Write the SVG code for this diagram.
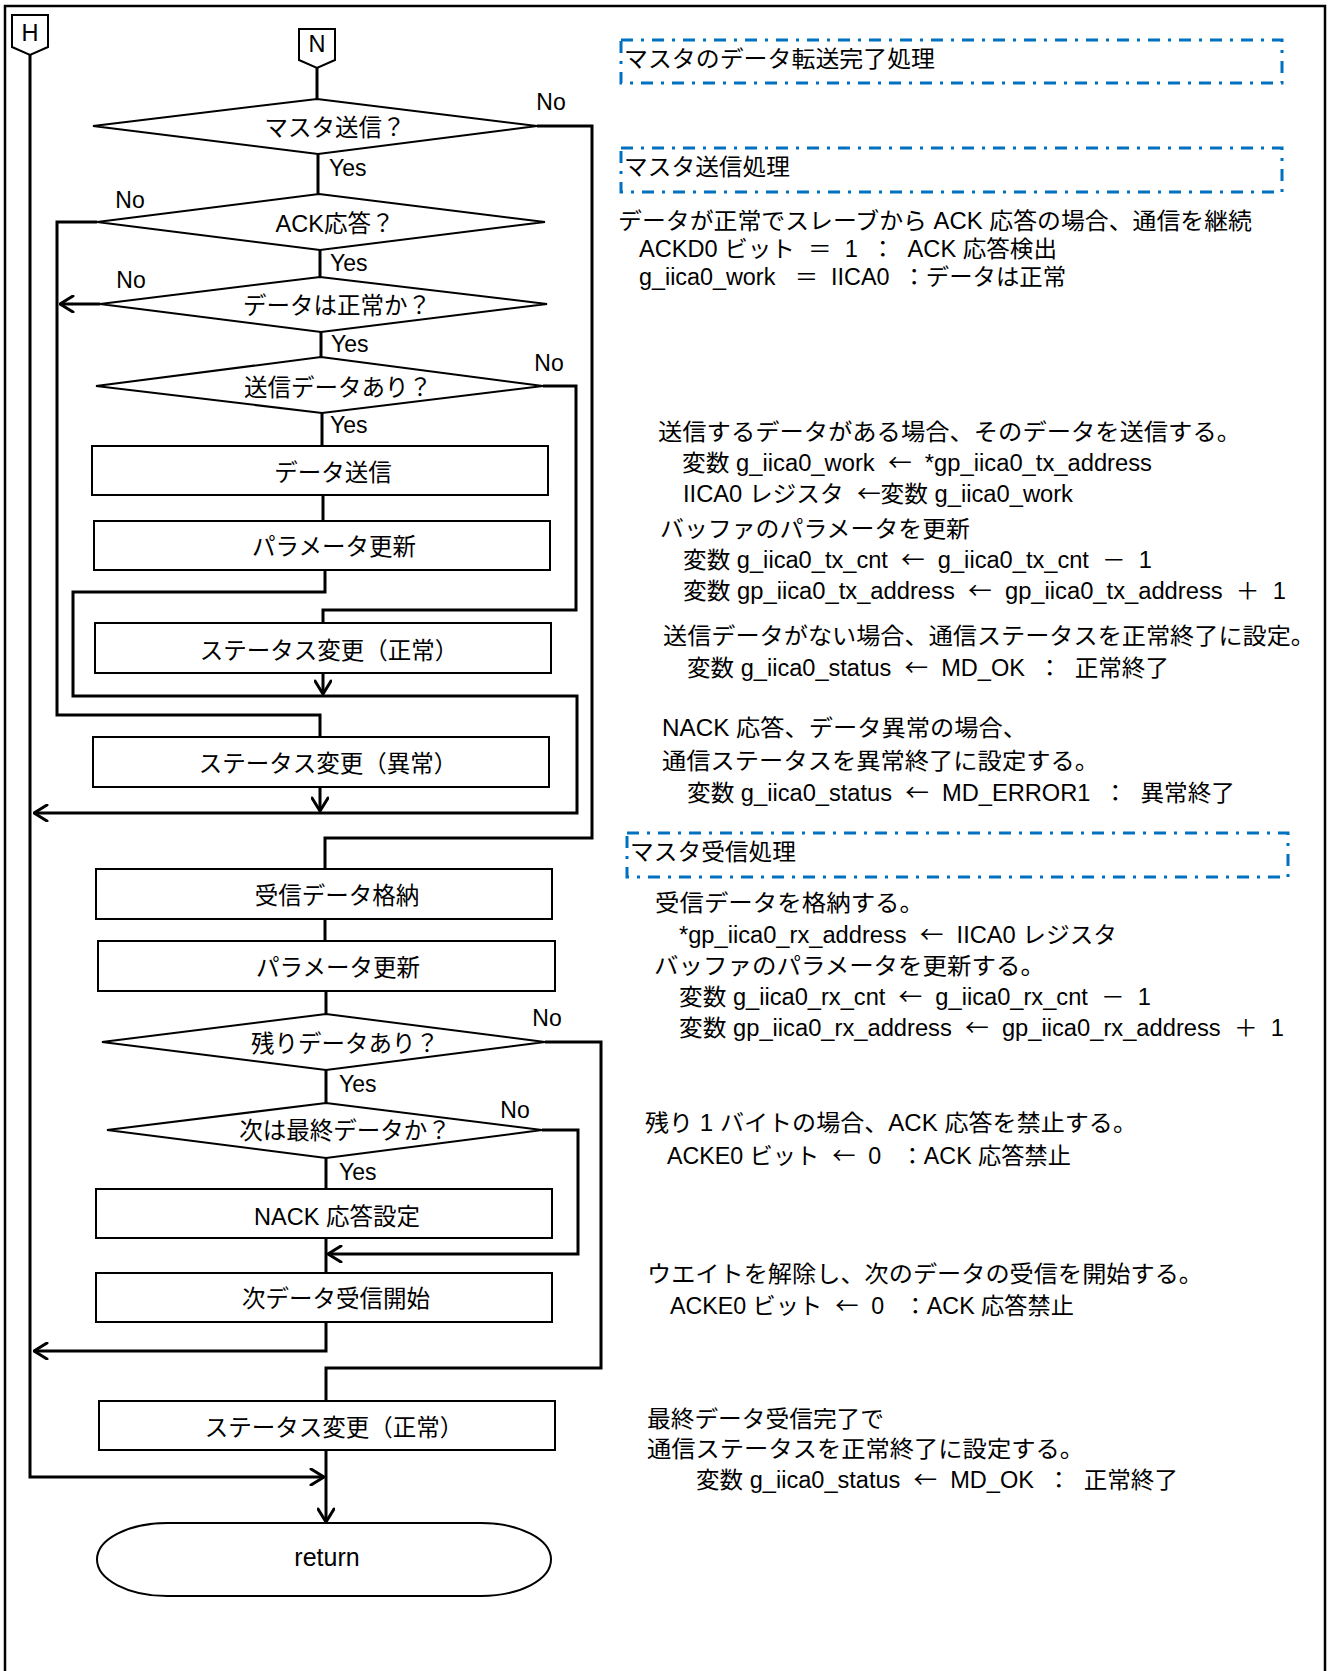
<svg xmlns="http://www.w3.org/2000/svg" width="1328" height="1671" viewBox="0 0 1328 1671">
<defs>
<style>
text{font-family:"Liberation Sans","Noto Sans CJK JP",sans-serif;font-size:23px;fill:#000}
.lbl{text-anchor:middle;font-size:23.5px}
.ar{font-family:"Noto Sans CJK JP",sans-serif}
#notes text{white-space:pre}
.shape{fill:#fff;stroke:#000;stroke-width:2}
.con{fill:none;stroke:#000;stroke-width:3;stroke-linejoin:miter}
.blue{fill:none;stroke:#0070C0;stroke-width:3;stroke-dasharray:12 8 3 8}
</style>
<marker id="arr" viewBox="0 0 16 18" refX="15" refY="9" markerWidth="16" markerHeight="18" markerUnits="userSpaceOnUse" orient="auto">
<path d="M2,1 L15,9 L2,17" fill="none" stroke="#000" stroke-width="3" stroke-linejoin="round" stroke-linecap="round"/>
</marker>
</defs>
<rect x="0" y="0" width="1328" height="1671" fill="#fff"/>
<path d="M5,1675 V6 H1325 V1675" fill="none" stroke="#000" stroke-width="2.5"/>

<g id="connectors">
<path class="con" d="M317,68 V99"/>
<path class="con" d="M318,154 V194"/>
<path class="con" d="M320,250 V277"/>
<path class="con" d="M321,332 V357"/>
<path class="con" d="M322,413 V446"/>
<path class="con" d="M323,495 V521"/>
<path class="con" d="M543,386 H576 V610 H323 V623"/>
<path class="con" d="M325,570 V592 H73 V696 H577 V813 H34" marker-end="url(#arr)"/>
<path class="con" d="M323,673 V694" marker-end="url(#arr)"/>
<path class="con" d="M97,222 H57 V715 H320 V737"/>
<path class="con" d="M100,304 H60" marker-end="url(#arr)"/>
<path class="con" d="M320,787 V811" marker-end="url(#arr)"/>
<path class="con" d="M537,126 H592 V838 H325 V869"/>
<path class="con" d="M325,919 V941"/>
<path class="con" d="M326,991 V1014"/>
<path class="con" d="M326,1070 V1103"/>
<path class="con" d="M326,1158 V1189"/>
<path class="con" d="M326,1238 V1273"/>
<path class="con" d="M542,1130 H578 V1254 H328" marker-end="url(#arr)"/>
<path class="con" d="M326,1322 V1351 H34" marker-end="url(#arr)"/>
<path class="con" d="M545,1042 H601 V1368 H326 V1401"/>
<path class="con" d="M326,1450 V1522" marker-end="url(#arr)"/>
<path class="con" d="M30,55 V1477 H324" marker-end="url(#arr)"/>
</g>

<g id="H">
<polygon class="shape" points="12,15 48,15 48,47 30,55 12,47"/>
<text class="lbl" x="30" y="41">H</text>
</g>
<g id="N">
<polygon class="shape" points="299,29 335,29 335,60 317,68 299,60"/>
<text class="lbl" x="317" y="52">N</text>
</g>
<g id="d1">
<polygon class="shape" points="317,99 537,126 318,154 93,126"/>
<text class="lbl" x="335" y="136">マスタ送信？</text>
</g>
<g id="d2">
<polygon class="shape" points="319,194 545,222 320,250 97,222"/>
<text class="lbl" x="335" y="232">ACK応答？</text>
</g>
<g id="d3">
<polygon class="shape" points="320,277 547,304 321,332 100,304"/>
<text class="lbl" x="337" y="314">データは正常か？</text>
</g>
<g id="d4">
<polygon class="shape" points="321,357 543,386 322,413 96,386"/>
<text class="lbl" x="338" y="396">送信データあり？</text>
</g>
<g id="b1">
<rect class="shape" x="92" y="446" width="456" height="49"/>
<text class="lbl" x="333" y="481">データ送信</text>
</g>
<g id="b2">
<rect class="shape" x="94" y="521" width="456" height="49"/>
<text class="lbl" x="334" y="555">パラメータ更新</text>
</g>
<g id="b3">
<rect class="shape" x="95" y="623" width="456" height="50"/>
<text class="lbl" x="329" y="659">ステータス変更（正常）</text>
</g>
<g id="b4">
<rect class="shape" x="93" y="737" width="456" height="50"/>
<text class="lbl" x="328" y="772">ステータス変更（異常）</text>
</g>
<g id="b5">
<rect class="shape" x="96" y="869" width="456" height="50"/>
<text class="lbl" x="337" y="904">受信データ格納</text>
</g>
<g id="b6">
<rect class="shape" x="98" y="941" width="457" height="50"/>
<text class="lbl" x="338" y="976">パラメータ更新</text>
</g>
<g id="d5">
<polygon class="shape" points="326,1014 545,1042 326,1070 102,1042"/>
<text class="lbl" x="345" y="1052">残りデータあり？</text>
</g>
<g id="d6">
<polygon class="shape" points="326,1103 542,1130 326,1158 107,1130"/>
<text class="lbl" x="345" y="1139">次は最終データか？</text>
</g>
<g id="b7">
<rect class="shape" x="96" y="1189" width="456" height="49"/>
<text class="lbl" x="337" y="1225">NACK 応答設定</text>
</g>
<g id="b8">
<rect class="shape" x="96" y="1273" width="456" height="49"/>
<text class="lbl" x="336" y="1307">次データ受信開始</text>
</g>
<g id="b9">
<rect class="shape" x="99" y="1401" width="456" height="49"/>
<text class="lbl" x="334" y="1436">ステータス変更（正常）</text>
</g>
<g id="ret">
<rect class="shape" x="97" y="1523" width="454" height="73" rx="70" ry="36.5"/>
<text class="lbl" x="327" y="1566" style="font-size:25px">return</text>
</g>

<g id="branch-labels">
<text x="551" y="110" text-anchor="middle">No</text>
<text x="329" y="176">Yes</text>
<text x="130" y="208" text-anchor="middle">No</text>
<text x="330" y="271">Yes</text>
<text x="131" y="288" text-anchor="middle">No</text>
<text x="331" y="352">Yes</text>
<text x="549" y="371" text-anchor="middle">No</text>
<text x="330" y="433">Yes</text>
<text x="547" y="1026" text-anchor="middle">No</text>
<text x="339" y="1092">Yes</text>
<text x="515" y="1118" text-anchor="middle">No</text>
<text x="339" y="1180">Yes</text>
</g>

<g id="section-boxes">
<rect class="blue" x="621" y="40" width="661" height="43"/>
<rect class="blue" x="621" y="148" width="661" height="44"/>
<rect class="blue" x="627" y="833" width="661" height="44"/>
</g>

<g id="notes">
<text x="624" y="67" textLength="311" lengthAdjust="spacingAndGlyphs">マスタのデータ転送完了処理</text>
<text x="624" y="175" textLength="166" lengthAdjust="spacingAndGlyphs">マスタ送信処理</text>
<text x="618" y="229" textLength="634" lengthAdjust="spacingAndGlyphs">データが正常でスレーブから ACK 応答の場合、通信を継続</text>
<text x="639" y="257" textLength="418" lengthAdjust="spacingAndGlyphs">ACKD0 ビット  ＝  1  ：  ACK 応答検出</text>
<text x="639" y="285" textLength="427" lengthAdjust="spacingAndGlyphs">g_iica0_work   ＝  IICA0  ：データは正常</text>
<text x="658" y="440" textLength="583" lengthAdjust="spacingAndGlyphs">送信するデータがある場合、そのデータを送信する。</text>
<text x="682" y="471" textLength="470" lengthAdjust="spacingAndGlyphs">変数 g_iica0_work  <tspan class="ar">←</tspan>  *gp_iica0_tx_address</text>
<text x="683" y="502" textLength="390" lengthAdjust="spacingAndGlyphs">IICA0 レジスタ  <tspan class="ar">←</tspan>変数 g_iica0_work</text>
<text x="660" y="537" textLength="310" lengthAdjust="spacingAndGlyphs">バッファのパラメータを更新</text>
<text x="683" y="568" textLength="469" lengthAdjust="spacingAndGlyphs">変数 g_iica0_tx_cnt  <tspan class="ar">←</tspan>  g_iica0_tx_cnt  －  1</text>
<text x="683" y="599" textLength="603" lengthAdjust="spacingAndGlyphs">変数 gp_iica0_tx_address  <tspan class="ar">←</tspan>  gp_iica0_tx_address  ＋  1</text>
<text x="663" y="644" textLength="652" lengthAdjust="spacingAndGlyphs">送信データがない場合、通信ステータスを正常終了に設定。</text>
<text x="687" y="676" textLength="482" lengthAdjust="spacingAndGlyphs">変数 g_iica0_status  <tspan class="ar">←</tspan>  MD_OK  ：  正常終了</text>
<text x="662" y="736" textLength="365" lengthAdjust="spacingAndGlyphs">NACK 応答、データ異常の場合、</text>
<text x="662" y="769" textLength="437" lengthAdjust="spacingAndGlyphs">通信ステータスを異常終了に設定する。</text>
<text x="687" y="801" textLength="548" lengthAdjust="spacingAndGlyphs">変数 g_iica0_status  <tspan class="ar">←</tspan>  MD_ERROR1  ：  異常終了</text>
<text x="630" y="860" textLength="166" lengthAdjust="spacingAndGlyphs">マスタ受信処理</text>
<text x="655" y="911" textLength="269" lengthAdjust="spacingAndGlyphs">受信データを格納する。</text>
<text x="679" y="943" textLength="438" lengthAdjust="spacingAndGlyphs">*gp_iica0_rx_address  <tspan class="ar">←</tspan>  IICA0 レジスタ</text>
<text x="654" y="974" textLength="391" lengthAdjust="spacingAndGlyphs">バッファのパラメータを更新する。</text>
<text x="679" y="1005" textLength="472" lengthAdjust="spacingAndGlyphs">変数 g_iica0_rx_cnt  <tspan class="ar">←</tspan>  g_iica0_rx_cnt  －  1</text>
<text x="679" y="1036" textLength="605" lengthAdjust="spacingAndGlyphs">変数 gp_iica0_rx_address  <tspan class="ar">←</tspan>  gp_iica0_rx_address  ＋  1</text>
<text x="645" y="1131" textLength="492" lengthAdjust="spacingAndGlyphs">残り 1 バイトの場合、ACK 応答を禁止する。</text>
<text x="667" y="1164" textLength="404" lengthAdjust="spacingAndGlyphs">ACKE0 ビット  <tspan class="ar">←</tspan>  0   ：ACK 応答禁止</text>
<text x="647" y="1282" textLength="556" lengthAdjust="spacingAndGlyphs">ウエイトを解除し、次のデータの受信を開始する。</text>
<text x="670" y="1314" textLength="404" lengthAdjust="spacingAndGlyphs">ACKE0 ビット  <tspan class="ar">←</tspan>  0   ：ACK 応答禁止</text>
<text x="647" y="1427" textLength="237" lengthAdjust="spacingAndGlyphs">最終データ受信完了で</text>
<text x="647" y="1457" textLength="437" lengthAdjust="spacingAndGlyphs">通信ステータスを正常終了に設定する。</text>
<text x="696" y="1488" textLength="482" lengthAdjust="spacingAndGlyphs">変数 g_iica0_status  <tspan class="ar">←</tspan>  MD_OK  ：  正常終了</text>
</g>
</svg>
